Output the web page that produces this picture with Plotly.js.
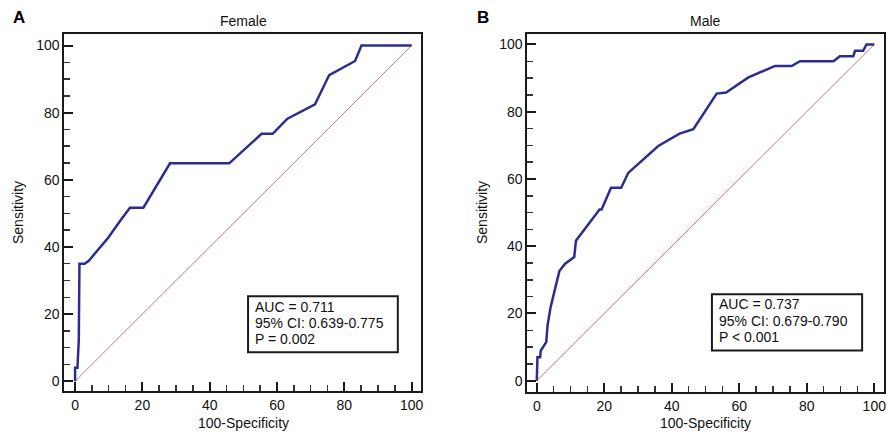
<!DOCTYPE html>
<html>
<head>
<meta charset="utf-8">
<script src="https://cdn.plot.ly/plotly-3.0.1.min.js"></script>
<style>html,body{margin:0;padding:0;background:#fff;}#chart{width:887px;height:432px;}</style>
</head>
<body>
<div id="chart"></div>
<script>
// Female ROC curve (100-Specificity, Sensitivity)
const femaleX = [0, 0, 0.7, 1.1, 1.3, 2.8, 4.0, 6.4, 9.9, 13.2, 16.3, 20.3, 28.2, 45.8, 55.4, 58.7, 63.1, 71.3, 75.5, 83.2, 85.1, 100];
const femaleY = [0, 4, 4, 12.2, 35, 35, 35.8, 38.6, 42.8, 47.5, 51.7, 51.7, 64.9, 64.9, 73.7, 73.7, 78.2, 82.5, 91.2, 95.4, 100, 100];
// Male ROC curve
const maleX = [0, 0.2, 1.0, 1.2, 2.8, 3.2, 4.1, 6.7, 8.4, 11.1, 11.6, 18.6, 19.2, 22.0, 25.0, 27.1, 36.0, 42.3, 46.4, 52.3, 53.3, 56.1, 62.7, 70.6, 75.5, 78.0, 87.9, 89.8, 93.8, 94.3, 96.7, 97.7, 100];
const maleY = [0, 7.0, 7.0, 9.0, 11.5, 16.5, 21.9, 32.6, 34.8, 36.8, 41.6, 50.9, 50.9, 57.4, 57.4, 61.8, 69.8, 73.5, 74.8, 83.9, 85.4, 85.7, 90.2, 93.6, 93.6, 95.0, 95.0, 96.5, 96.5, 98.1, 98.1, 100, 100];
// Reference diagonal
const diagX = [0, 100];
const diagY = [0, 100];
// Panel texts
const panelLetters = ["A", "B"];
const panelTitles = ["Female", "Male"];
const xTitle = "100-Specificity";
const yTitle = "Sensitivity";
const statsFemale = ["AUC = 0.711", "95% CI: 0.639-0.775", "P = 0.002"];
const statsMale = ["AUC = 0.737", "95% CI: 0.679-0.790", "P < 0.001"];
const tickVals = [0, 20, 40, 60, 80, 100];

const FONT = "Liberation Sans, Arial, sans-serif";
const FS = 14;
const curveColor = "#2b2e8c";
const diagColor = "#b36b66";

const traces = [
  {x: diagX, y: diagY, xaxis: 'x', yaxis: 'y', mode: 'lines', line: {color: diagColor, width: 0.9}, hoverinfo: 'skip'},
  {x: femaleX, y: femaleY, xaxis: 'x', yaxis: 'y', mode: 'lines', line: {color: curveColor, width: 2.5}},
  {x: diagX, y: diagY, xaxis: 'x2', yaxis: 'y2', mode: 'lines', line: {color: diagColor, width: 0.9}, hoverinfo: 'skip'},
  {x: maleX, y: maleY, xaxis: 'x2', yaxis: 'y2', mode: 'lines', line: {color: curveColor, width: 2.5}}
];

function axis(domain, range, anchor) {
  return {
    domain: domain, range: range, anchor: anchor,
    showline: true, mirror: true, linecolor: '#1a1a1a', linewidth: 2,
    showgrid: false, zeroline: false,
    tickmode: 'array', tickvals: tickVals,
    ticks: 'inside', ticklen: 9, tickwidth: 2, tickcolor: '#1a1a1a',
    minor: {dtick: 5, tick0: 0, ticks: 'inside', ticklen: 6, tickwidth: 1.5, tickcolor: '#333', showgrid: false},
    tickfont: {family: FONT, size: FS, color: '#111'},
    automargin: false, fixedrange: true
  };
}

const xr = [-3.2, 102.7], yr = [-2.9, 103.4];
const xr2 = [-2.8, 102.8], yr2 = [-3.3, 103.2];

function statsAnn(lines, xref, yref, x0, y0) {
  return lines.map((t, i) => ({
    text: t, xref: xref, yref: yref, x: x0, y: y0 - i * 4.8,
    xanchor: 'left', yanchor: 'middle', showarrow: false,
    font: {family: FONT, size: FS, color: '#111'}
  }));
}

function pa(text, px, py, size, extra) {
  return Object.assign({text: text, xref: 'paper', yref: 'paper', x: px / 887, y: 1 - py / 432,
    xanchor: 'center', yanchor: 'middle', showarrow: false,
    font: {family: FONT, size: size, color: '#111'}}, extra || {});
}

const layout = {
  width: 887, height: 432,
  margin: {l: 0, r: 0, t: 0, b: 0},
  paper_bgcolor: '#fff', plot_bgcolor: '#fff',
  showlegend: false,
  xaxis: axis([0.0725, 0.4743], xr, 'y'),
  yaxis: axis([0.095, 0.921], yr, 'x'),
  xaxis2: axis([0.5945, 0.9963], xr2, 'y2'),
  yaxis2: axis([0.093, 0.922], yr2, 'x2'),
  shapes: [
    {type: 'rect', xref: 'x', yref: 'y', x0: 51.4, x1: 95.9, y0: 8.6, y1: 25.3, line: {color: '#1a1a1a', width: 2}, fillcolor: 'rgba(0,0,0,0)'},
    {type: 'rect', xref: 'x2', yref: 'y2', x0: 51.9, x1: 96.4, y0: 9.0, y1: 25.7, line: {color: '#1a1a1a', width: 2}, fillcolor: 'rgba(0,0,0,0)'}
  ],
  annotations: [
    pa('<b>' + panelLetters[0] + '</b>', 11, 17, 17, {xanchor: 'left', font: {family: FONT, size: 17, color: '#000'}}),
    pa('<b>' + panelLetters[1] + '</b>', 475, 17, 17, {xanchor: 'left', font: {family: FONT, size: 17, color: '#000'}}),
    pa(panelTitles[0], 243, 21, FS),
    pa(panelTitles[1], 705, 21, FS),
    pa(xTitle, 243, 423, FS),
    pa(xTitle, 705, 423, FS),
    pa(yTitle, 18, 213, FS, {textangle: -90}),
    pa(yTitle, 482, 213, FS, {textangle: -90})
  ].concat(statsAnn(statsFemale, 'x', 'y', 52.8, 22.2)).concat(statsAnn(statsMale, 'x2', 'y2', 53.5, 22.7))
};

Plotly.newPlot('chart', traces, layout, {displayModeBar: false, staticPlot: true});
</script>
</body>
</html>
